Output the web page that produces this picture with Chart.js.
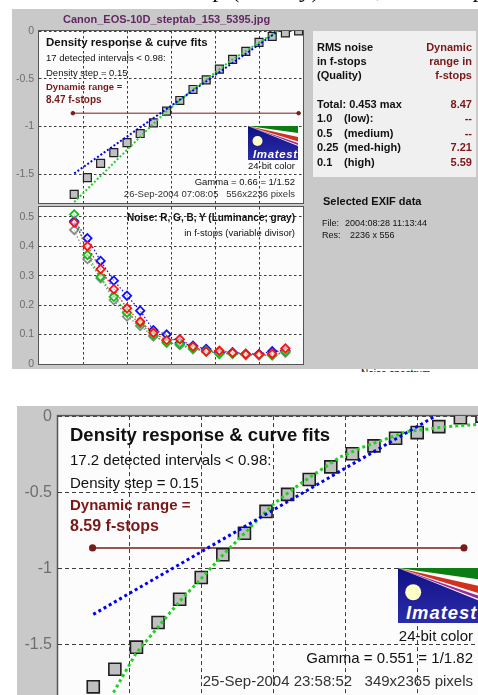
<!DOCTYPE html>
<html>
<head>
<meta charset="utf-8">
<script src="https://cdn.jsdelivr.net/npm/chart.js@4/dist/chart.umd.min.js"></script>
<style>
  html, body { margin: 0; padding: 0; overflow: hidden; background: #fff; }
  body { position: relative; width: 478px; height: 695px; font-family: "Liberation Sans", Arial, sans-serif; color: #111; }
  .abs { position: absolute; }
  .t { position: absolute; white-space: pre; line-height: 1; transform: translateY(-50%); }
  .r { transform: translate(-100%, -50%); }
  .b { font-weight: bold; }
  .dr { color: #7a1818; }
  canvas { position: absolute; }
</style>
</head>
<body>

<!-- gray backgrounds -->
<div class="abs" style="left:12px;top:9px;width:466px;height:360px;background:#c9c9c9"></div>
<div class="abs" style="left:17px;top:406px;width:461px;height:289px;background:#c9c9c9"></div>
<div class="abs" style="left:313px;top:31px;width:163px;height:146px;background:#f0f0f0"></div>

<!-- cut off page text at the very top -->
<div class="abs" style="left:0;top:0;width:478px;height:15px;overflow:hidden;z-index:5">
  <div class="abs" style="left:8px;top:-25px;font-family:'Liberation Serif',serif;font-size:25px;white-space:pre">Canon EOS-10D step (density) chart, 2004 step</div>
</div>

<canvas id="densTop" width="310" height="190" style="left:0;top:21px"></canvas>
<canvas id="noise" width="310" height="172" style="left:0;top:200px"></canvas>
<canvas id="densBot" width="500" height="310" style="left:0;top:406px"></canvas>

<!-- top panel texts -->
<div class="t b" style="left:63px;top:19px;font-size:11px;color:#632863">Canon_EOS-10D_steptab_153_5395.jpg</div>
<div class="t b" style="left:46px;top:43px;font-size:11.5px">Density response &amp; curve fits</div>
<div class="t" style="left:46px;top:58px;font-size:9.5px">17 detected intervals &lt; 0.98:</div>
<div class="t" style="left:46px;top:72.5px;font-size:9.5px">Density step = 0.15</div>
<div class="t b dr" style="left:46px;top:86.5px;font-size:9.5px">Dynamic range =</div>
<div class="t b dr" style="left:46px;top:100px;font-size:10px">8.47 f-stops</div>

<svg class="abs" style="left:248px;top:126px" width="50" height="34" viewBox="0 0 100 68">
  <defs><linearGradient id="lg1" x1="0" y1="0" x2="0" y2="1"><stop offset="0" stop-color="#101084"/><stop offset="1" stop-color="#2c2cab"/></linearGradient></defs>
  <rect width="100" height="68" fill="#fff"/>
  <polygon points="0,0 100,0 100,14" fill="#0b7d12"/>
  <polygon points="0,0 100,22 100,31" fill="#d0321c"/>
  <polygon points="0,0 100,34 100,38" fill="#9a2aa0"/>
  <polygon points="0,0 100,40 100,68 0,68" fill="url(#lg1)"/>
  <circle cx="19" cy="30" r="10" fill="#ffffc8"/>
  <text x="98" y="63" text-anchor="end" font-family="Liberation Sans" font-weight="bold" font-style="italic" font-size="23" fill="#fff" textLength="88">Imatest</text>
</svg>
<div class="t r" style="left:295px;top:166px;font-size:9.5px">24-bit color</div>
<div class="t r" style="left:295px;top:181.5px;font-size:9.5px">Gamma = 0.66 = 1/1.52</div>
<div class="t r" style="left:295px;top:194px;font-size:9.5px;color:#333">26-Sep-2004 07:08:05   556x2236 pixels</div>

<div class="t b r" style="left:295px;top:218px;font-size:10px">Noise: R, G, B, Y (Luminance; gray)</div>
<div class="t r" style="left:295px;top:233px;font-size:9.5px">in f-stops (variable divisor)</div>

<!-- right info box -->
<div class="t b" style="left:317px;top:46.7px;font-size:11px">RMS noise</div>
<div class="t b" style="left:317px;top:61px;font-size:11px">in f-stops</div>
<div class="t b" style="left:317px;top:75.3px;font-size:11px">(Quality)</div>
<div class="t b" style="left:317px;top:104.3px;font-size:11px">Total: 0.453 max</div>
<div class="t b" style="left:317px;top:118.3px;font-size:11px">1.0</div>
<div class="t b" style="left:317px;top:132.7px;font-size:11px">0.5</div>
<div class="t b" style="left:317px;top:146.7px;font-size:11px">0.25</div>
<div class="t b" style="left:317px;top:161.7px;font-size:11px">0.1</div>
<div class="t b" style="left:344px;top:118.3px;font-size:11px">(low):</div>
<div class="t b" style="left:344px;top:132.7px;font-size:11px">(medium)</div>
<div class="t b" style="left:344px;top:146.7px;font-size:11px">(med-high)</div>
<div class="t b" style="left:344px;top:161.7px;font-size:11px">(high)</div>
<div class="t b r dr" style="left:472px;top:46.7px;font-size:11px">Dynamic</div>
<div class="t b r dr" style="left:472px;top:61px;font-size:11px">range in</div>
<div class="t b r dr" style="left:472px;top:75.3px;font-size:11px">f-stops</div>
<div class="t b r dr" style="left:472px;top:104.3px;font-size:11px">8.47</div>
<div class="t b r dr" style="left:472px;top:118.3px;font-size:11px">--</div>
<div class="t b r dr" style="left:472px;top:132.7px;font-size:11px">--</div>
<div class="t b r dr" style="left:472px;top:146.7px;font-size:11px">7.21</div>
<div class="t b r dr" style="left:472px;top:161.7px;font-size:11px">5.59</div>

<div class="t b" style="left:323px;top:201px;font-size:11px">Selected EXIF data</div>
<div class="t" style="left:322px;top:222.5px;font-size:9px">File:</div>
<div class="t" style="left:345px;top:222.5px;font-size:9px">2004:08:28 11:13:44</div>
<div class="t" style="left:322px;top:235px;font-size:9px">Res:</div>
<div class="t" style="left:350px;top:235px;font-size:9px">2236 x 556</div>

<div class="abs" style="left:355px;top:369px;width:80px;height:3px;overflow:hidden">
  <div class="abs" style="left:6px;top:0;font-size:10px;line-height:1;white-space:pre">Noise spectrum</div>
</div>

<!-- bottom (zoomed) panel texts -->
<div class="t b" style="left:70px;top:435px;font-size:18.5px">Density response &amp; curve fits</div>
<div class="t" style="left:70px;top:459px;font-size:15px">17.2 detected intervals &lt; 0.98:</div>
<div class="t" style="left:70px;top:482px;font-size:15px">Density step = 0.15</div>
<div class="t b dr" style="left:70px;top:504px;font-size:15px">Dynamic range =</div>
<div class="t b dr" style="left:70px;top:526px;font-size:16px">8.59 f-stops</div>

<svg class="abs" style="left:398px;top:568px" width="80" height="55" viewBox="0 0 100 68" preserveAspectRatio="none">
  <defs><linearGradient id="lg2" x1="0" y1="0" x2="0" y2="1"><stop offset="0" stop-color="#101084"/><stop offset="1" stop-color="#2c2cab"/></linearGradient></defs>
  <rect width="100" height="68" fill="#fff"/>
  <polygon points="0,0 100,0 100,14" fill="#0b7d12"/>
  <polygon points="0,0 100,22 100,31" fill="#d0321c"/>
  <polygon points="0,0 100,34 100,38" fill="#9a2aa0"/>
  <polygon points="0,0 100,40 100,68 0,68" fill="url(#lg2)"/>
  <circle cx="19" cy="30" r="10" fill="#ffffc8"/>
  <text x="98" y="63" text-anchor="end" font-family="Liberation Sans" font-weight="bold" font-style="italic" font-size="23" fill="#fff" textLength="88">Imatest</text>
</svg>
<div class="t r" style="left:473px;top:635px;font-size:15px">24-bit color</div>
<div class="t r" style="left:473px;top:657px;font-size:15px">Gamma = 0.551 = 1/1.82</div>
<div class="t r" style="left:473px;top:680px;font-size:15px;color:#333">25-Sep-2004 23:58:52   349x2365 pixels</div>

<script>
// vertical grid lines (shared by all three plots)
const gridX = [1, 2, 3, 4, 5];

// --- top density plot (Canon_EOS-10D_steptab_153_5395.jpg) ---
const densTopX = [0.8, 1.1, 1.4, 1.7, 2.0, 2.3, 2.6, 2.9, 3.2, 3.5, 3.8, 4.1, 4.4, 4.7, 5.0, 5.3, 5.6, 5.9];
const densTopY = [-1.71, -1.535, -1.385, -1.273, -1.168, -1.073, -0.962, -0.839, -0.727, -0.612, -0.511, -0.399, -0.297, -0.213, -0.119, -0.056, -0.021, 0.0];
const blueTopX = [0.8, 5.44];
const blueTopY = [-1.49, 0.0];
const greenTopX = [0.8, 2.62, 2.9, 3.2, 3.5, 3.8, 4.1, 4.4, 4.7, 5.0, 5.25, 5.42];
const greenTopY = [-1.79, -0.962, -0.84, -0.727, -0.612, -0.511, -0.40, -0.297, -0.21, -0.12, -0.05, 0.0];
const rangeTopX = [0.77, 5.9];
const rangeTopY = [-0.86, -0.86];
const densTopTicks = [0, -0.5, -1, -1.5];

// --- noise plot, f-stops ---
const noiseX = [0.8, 1.1, 1.4, 1.7, 2.0, 2.3, 2.6, 2.9, 3.2, 3.5, 3.8, 4.1, 4.4, 4.7, 5.0, 5.3, 5.6];
const noiseR = [0.48, 0.40, 0.322, 0.254, 0.189, 0.144, 0.106, 0.081, 0.084, 0.059, 0.042, 0.045, 0.038, 0.033, 0.032, 0.035, 0.053];
const noiseG = [0.508, 0.37, 0.296, 0.228, 0.174, 0.138, 0.098, 0.072, 0.068, 0.053, 0.045, 0.034, 0.036, 0.033, 0.031, 0.030, 0.042];
const noiseB = [0.485, 0.427, 0.35, 0.283, 0.232, 0.181, 0.115, 0.100, 0.072, 0.062, 0.051, 0.040, 0.040, 0.035, 0.034, 0.043, 0.045];
const noiseY = [0.455, 0.356, 0.291, 0.217, 0.161, 0.129, 0.093, 0.075, 0.064, 0.050, 0.042, 0.036, 0.034, 0.030, 0.029, 0.030, 0.038];
const noiseTicks = [0, 0.1, 0.2, 0.3, 0.4, 0.5];

// --- bottom (zoomed) density plot ---
const densBotX = [0.49, 0.79, 1.09, 1.39, 1.69, 1.99, 2.29, 2.59, 2.89, 3.19, 3.49, 3.79, 4.09, 4.39, 4.69, 4.99, 5.29, 5.59, 5.89];
const densBotY = [-1.775, -1.66, -1.515, -1.353, -1.201, -1.058, -0.909, -0.768, -0.625, -0.513, -0.416, -0.333, -0.247, -0.195, -0.145, -0.108, -0.069, -0.011, 0.0];
const blueBotX = [0.49, 5.24];
const blueBotY = [-1.30, 0.0];
const greenBotX = [0.77, 1.08, 1.40, 1.69, 1.99, 2.28, 2.58, 2.99, 3.29, 3.59, 3.92, 4.24, 4.52, 4.84, 5.12, 5.40, 5.83, 6.0];
const greenBotY = [-1.812, -1.558, -1.377, -1.214, -1.065, -0.916, -0.773, -0.578, -0.469, -0.372, -0.268, -0.203, -0.156, -0.102, -0.086, -0.069, -0.054, -0.05];
const rangeBotX = [0.48, 5.64];
const rangeBotY = [-0.864, -0.864];
const densBotTicks = [0, -0.5, -1, -1.5];

const pts = (xs, ys) => xs.map((x, i) => ({ x: x, y: ys[i] }));

// white plot area + dark frame, like the Imatest/Matlab axes
const framePlugin = {
  id: 'plotFrame',
  beforeDraw(chart) {
    const a = chart.chartArea, ctx = chart.ctx;
    ctx.save();
    ctx.fillStyle = '#fcfcfc';
    ctx.fillRect(a.left, a.top, a.right - a.left, a.bottom - a.top);
    ctx.restore();
  },
  beforeDatasetsDraw(chart) {
    const a = chart.chartArea, ctx = chart.ctx;
    ctx.save();
    ctx.strokeStyle = '#555';
    ctx.lineWidth = chart.options.frameWidth || 1;
    ctx.strokeRect(a.left - 0.5, a.top - 0.5, a.right - a.left + 1, a.bottom - a.top + 1);
    ctx.restore();
  }
};

function makeChart(id, o) {
  const grid = { color: '#3c3c3c', lineWidth: 1, drawTicks: false };
  return new Chart(document.getElementById(id), {
    type: 'line',
    data: { datasets: o.datasets },
    options: {
      responsive: false,
      animation: false,
      frameWidth: o.frameWidth,
      layout: { padding: o.pad },
      plugins: { legend: { display: false }, tooltip: { enabled: false } },
      scales: {
        x: {
          type: 'linear', min: 0, max: 6,
          afterBuildTicks: s => { s.ticks = gridX.map(v => ({ value: v })); },
          afterFit: s => { s.height = 0; s.paddingLeft = 0; s.paddingRight = 0; },
          ticks: { display: false },
          grid: grid,
          border: { display: false, dash: o.dash }
        },
        y: {
          type: 'linear', min: o.yMin, max: o.yMax,
          afterBuildTicks: s => { s.ticks = o.yTicks.map(v => ({ value: v })); },
          afterFit: s => { s.width = o.yWidth; s.paddingTop = 0; s.paddingBottom = 0; },
          ticks: {
            color: '#6e6e6e', padding: o.tickPad,
            font: { family: 'Liberation Sans', size: o.fontSize },
            callback: v => String(v)
          },
          grid: grid,
          border: { display: false, dash: o.dash }
        }
      }
    },
    plugins: [framePlugin]
  });
}

function densitySets(sx, sy, bx, by, gx, gy, rx, ry, s) {
  return [
    { data: pts(bx, by), borderColor: '#0000f0', borderWidth: s.lw, borderDash: s.dash, pointRadius: 0, fill: false },
    { data: pts(gx, gy), borderColor: '#1ed21e', borderWidth: s.lw, borderDash: s.dash, pointRadius: 0, fill: false },
    { data: pts(sx, sy), showLine: false, pointStyle: 'rect', pointRadius: s.sq,
      pointBackgroundColor: '#c0c0c0', pointBorderColor: '#1e1e1e', pointBorderWidth: s.sqb },
    { data: pts(rx, ry), borderColor: '#7a1c1c', borderWidth: s.rw, pointRadius: s.rp,
      pointBackgroundColor: '#7a1c1c', pointBorderColor: '#7a1c1c' }
  ];
}

makeChart('densTop', {
  yMin: -1.8, yMax: 0, yTicks: densTopTicks, yWidth: 39, tickPad: 5, fontSize: 10.5,
  pad: { top: 10, right: 7, bottom: 8, left: 0 }, dash: [2.5, 2.5], frameWidth: 1,
  datasets: densitySets(densTopX, densTopY, blueTopX, blueTopY, greenTopX, greenTopY, rangeTopX, rangeTopY,
    { lw: 2, dash: [2, 2], sq: 5.6, sqb: 1.2, rw: 1, rp: 1.8 })
});

function noiseSet(vals, color) {
  return { data: pts(noiseX, vals), borderColor: color, borderWidth: 1.2, borderDash: [1.5, 2],
    pointStyle: 'rectRot', pointRadius: 4.2, pointBorderWidth: 1.8,
    pointBorderColor: color, pointBackgroundColor: 'rgba(255,255,255,0.55)' };
}

makeChart('noise', {
  yMin: 0, yMax: 0.533, yTicks: noiseTicks, yWidth: 39, tickPad: 5, fontSize: 10.5,
  pad: { top: 7, right: 7, bottom: 8, left: 0 }, dash: [2.5, 2.5], frameWidth: 1,
  datasets: [
    noiseSet(noiseR, '#ff1010'),
    noiseSet(noiseG, '#10c010'),
    noiseSet(noiseB, '#1010ff'),
    noiseSet(noiseY, '#8a8a8a')
  ]
});

makeChart('densBot', {
  yMin: -1.9, yMax: 0, yTicks: densBotTicks, yWidth: 58, tickPad: 6, fontSize: 16,
  pad: { top: 10, right: 10, bottom: 7.4, left: 0 }, dash: [4, 3], frameWidth: 1.5,
  datasets: densitySets(densBotX, densBotY, blueBotX, blueBotY, greenBotX, greenBotY, rangeBotX, rangeBotY,
    { lw: 3, dash: [3, 3], sq: 8.5, sqb: 1.6, rw: 1.5, rp: 2.8 })
});
</script>
</body>
</html>
